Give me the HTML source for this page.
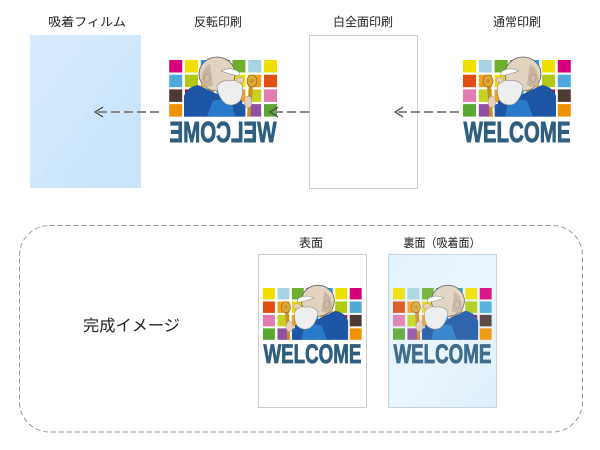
<!DOCTYPE html>
<html>
<head>
<meta charset="utf-8">
<style>
html,body{margin:0;padding:0;background:#fff;}
svg{display:block;}
text{font-family:"Liberation Sans","Noto Sans CJK JP",sans-serif;}
</style>
</head>
<body>
<svg width="600" height="450" viewBox="0 0 600 450" xmlns="http://www.w3.org/2000/svg">
<defs>
  <linearGradient id="film" x1="0" y1="0" x2="1" y2="1">
    <stop offset="0" stop-color="#d6ebfc"/>
    <stop offset="0.5" stop-color="#d1e8fb"/>
    <stop offset="0.52" stop-color="#cce6fb"/>
    <stop offset="1" stop-color="#c9e4fa"/>
  </linearGradient>
  <linearGradient id="card2" x1="0" y1="0" x2="1" y2="1">
    <stop offset="0" stop-color="#e4f2fd"/>
    <stop offset="0.5" stop-color="#e9f5fe"/>
    <stop offset="1" stop-color="#e0effb"/>
  </linearGradient>
  <g id="art">
    <!-- row 0 -->
    <rect x="0" y="0" width="13" height="12.5" fill="#f0e000"/>
    <rect x="15.8" y="0" width="13" height="12.5" fill="#a8d4e2"/>
    <rect x="31.6" y="0" width="13" height="12.5" fill="#6eb02e"/>
    <rect x="47.4" y="0" width="13" height="12.5" fill="#2c5a86"/>
    <rect x="63.2" y="0" width="13" height="12.5" fill="#28a0d8"/>
    <rect x="79" y="0" width="13" height="12.5" fill="#f0e000"/>
    <rect x="94.8" y="0" width="13" height="12.5" fill="#d6007a"/>
    <!-- row 1 -->
    <rect x="0" y="14.7" width="13" height="12.5" fill="#e04e12"/>
    <rect x="15.8" y="14.7" width="13" height="12.5" fill="#f0a21e"/>
    <rect x="31.6" y="14.7" width="13" height="12.5" fill="#f0e000"/>
    <rect x="47.4" y="14.7" width="13" height="12.5" fill="#28a0d8"/>
    <rect x="63.2" y="14.7" width="13" height="12.5" fill="#f0a21e"/>
    <rect x="79" y="14.7" width="13" height="12.5" fill="#b2cb12"/>
    <rect x="94.8" y="14.7" width="13" height="12.5" fill="#4eaad8"/>
    <!-- row 2 -->
    <rect x="0" y="29.4" width="13" height="12.5" fill="#e07cb0"/>
    <rect x="15.8" y="29.4" width="13" height="12.5" fill="#c8d21e"/>
    <rect x="31.6" y="29.4" width="13" height="12.5" fill="#f0a21e"/>
    <rect x="47.4" y="29.4" width="13" height="12.5" fill="#28a0d8"/>
    <rect x="63.2" y="29.4" width="13" height="12.5" fill="#f0a21e"/>
    <rect x="79" y="29.4" width="13" height="12.5" fill="#dc0014"/>
    <rect x="94.8" y="29.4" width="13" height="12.5" fill="#4e3a32"/>
    <!-- row 3 -->
    <rect x="0" y="44.1" width="13" height="12.5" fill="#5aa832"/>
    <rect x="15.8" y="44.1" width="13" height="12.5" fill="#9250a4"/>
    <rect x="31.6" y="44.1" width="13" height="12.5" fill="#1e5aa8"/>
    <rect x="47.4" y="44.1" width="13" height="12.5" fill="#1e5aa8"/>
    <rect x="63.2" y="44.1" width="13" height="12.5" fill="#1e5aa8"/>
    <rect x="79" y="44.1" width="13" height="12.5" fill="#2060a8"/>
    <rect x="94.8" y="44.1" width="13" height="12.5" fill="#f09200"/>
    <!-- coat -->
    <path d="M33,56.6 L35,41 Q45,33 58,35 Q70,29 79,25 Q90,27 93,36 L93,56.6 Z" fill="#1d56a4"/>
    <path d="M42,56.6 L45,43 Q55,38 64,41 L70,56.6 Z" fill="#2a7acb"/>
    <!-- head -->
    <ellipse cx="60" cy="14" rx="18" ry="17" fill="#e2d3c0" stroke="#555" stroke-width="0.8"/>
    <path d="M67,4 Q77,10 75,25 Q69,29 64,25 Z" fill="#c8b6a2"/>
    <ellipse cx="70" cy="18" rx="3" ry="4" fill="#d9b9a0" stroke="#777" stroke-width="0.4"/>
    <!-- beard / face -->
    <path d="M35,25 Q39,19 46,21 Q55,19 60,26 Q59,38 51,44 Q43,47 37,41 Q33,34 35,25Z" fill="#eeeeee" stroke="#888" stroke-width="0.6"/>
    <path d="M38,12 Q46,6 56,11 Q48,14 38,16Z" fill="#ffffff" stroke="#777" stroke-width="0.5"/>
    <ellipse cx="37" cy="20" rx="4" ry="3" fill="#e6cdb8" stroke="#777" stroke-width="0.4"/>
    <!-- staff -->
    <path d="M24,26 L28,26 L30,56.6 L26.5,56.6 Z" fill="#c8902a"/>
    <ellipse cx="25" cy="21" rx="5" ry="6" fill="#e0a838" stroke="#8a5a10" stroke-width="0.6"/>
    <circle cx="25" cy="21" r="2" fill="#c8902a"/>
    <ellipse cx="29" cy="42" rx="4" ry="6" fill="#e8d0b8" stroke="#777" stroke-width="0.4"/>
  </g>
</defs>

<!-- Top labels -->
<text x="87" y="26" font-size="12" text-anchor="middle" fill="#222" textLength="78" lengthAdjust="spacingAndGlyphs">吸着フィルム</text>
<text x="218" y="26" font-size="12" text-anchor="middle" fill="#222">反転印刷</text>
<text x="363" y="26" font-size="12" text-anchor="middle" fill="#222">白全面印刷</text>
<text x="517" y="26" font-size="12" text-anchor="middle" fill="#222">通常印刷</text>

<!-- Film -->
<rect x="30" y="35" width="111" height="153" fill="url(#film)"/>

<!-- Reversed print -->
<g transform="translate(277,60) scale(-1,1)">
  <use href="#art"/>
  <text x="54" y="82" font-size="29" font-weight="bold" fill="#2f5f80" stroke="#2f5f80" stroke-width="0.9" text-anchor="middle" textLength="107" lengthAdjust="spacingAndGlyphs">WELCOME</text>
</g>

<!-- White full print -->
<rect x="309.5" y="35.5" width="108" height="153" fill="#fff" stroke="#cccccc" stroke-width="1"/>

<!-- Normal print -->
<g transform="translate(463,60)">
  <use href="#art"/>
  <text x="54" y="82" font-size="29" font-weight="bold" fill="#2f5f80" stroke="#2f5f80" stroke-width="0.9" text-anchor="middle" textLength="107" lengthAdjust="spacingAndGlyphs">WELCOME</text>
</g>

<!-- Arrows -->
<g stroke="#8a8a8a" stroke-width="2" stroke-dasharray="9 4" fill="none">
  <line x1="309" y1="112" x2="272" y2="112"/>
  <line x1="459" y1="112" x2="397" y2="112"/>
  <line x1="159" y1="112" x2="97" y2="112"/>
</g>
<g stroke="#444" stroke-width="1.2" fill="none">
  <polyline points="278,107 270,112 278,117"/>
  <polyline points="403,107 395,112 403,117"/>
  <polyline points="103,107 95,112 103,117"/>
</g>

<!-- Bottom dashed frame -->
<rect x="19.5" y="225.5" width="563" height="206.5" rx="30" ry="30" fill="none" stroke="#999" stroke-width="1" stroke-dasharray="5 3"/>

<text x="131.5" y="331" font-size="16" text-anchor="middle" fill="#222" textLength="97" lengthAdjust="spacingAndGlyphs">完成イメージ</text>

<text x="311" y="247" font-size="12" text-anchor="middle" fill="#222">表面</text>
<text x="442" y="247" font-size="12" text-anchor="middle" fill="#222" textLength="77" lengthAdjust="spacingAndGlyphs">裏面（吸着面）</text>

<!-- Card 1 -->
<rect x="258.5" y="254.5" width="108" height="153" fill="#fff" stroke="#cccccc" stroke-width="1"/>
<g transform="translate(263,288) scale(0.915)">
  <use href="#art"/>
  <text x="54" y="82" font-size="29" font-weight="bold" fill="#2f5f80" stroke="#2f5f80" stroke-width="0.9" text-anchor="middle" textLength="107" lengthAdjust="spacingAndGlyphs">WELCOME</text>
</g>

<!-- Card 2 -->
<rect x="388.5" y="254.5" width="108" height="153" fill="url(#card2)" stroke="#c4d4e0" stroke-width="1"/>
<g transform="translate(393,288) scale(0.915)" opacity="0.9">
  <use href="#art"/>
  <text x="54" y="82" font-size="29" font-weight="bold" fill="#2f5f80" stroke="#2f5f80" stroke-width="0.9" text-anchor="middle" textLength="107" lengthAdjust="spacingAndGlyphs">WELCOME</text>
</g>
</svg>
</body>
</html>
